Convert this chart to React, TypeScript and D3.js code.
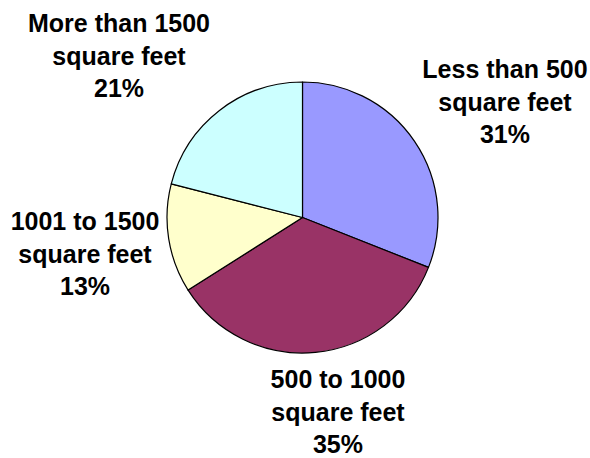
import React from 'react'
import * as d3 from 'd3'

// slices, clockwise from 12 o'clock
const categories = [
    'Less than 500 square feet',
    '500 to 1000 square feet',
    '1001 to 1500 square feet',
    'More than 1500 square feet'
]
const shares = [31, 35, 13, 21]
const colors = ['#9999FF', '#993366', '#FFFFCC', '#CCFFFF']

const WIDTH = 590
const HEIGHT = 458
const CX = 302.5
const CY = 217.5
const RADIUS = 135.5
const FONT = 25
const LINE = 32.5

// label block placement relative to pie center (x of centre, y of first baseline)
const labelOffsets = [
    [202.5, -139.5],
    [35.5, 170.5],
    [-217.5, 12.5],
    [-183.5, -185.5]
]

const splitLabel = (name: string) => {
    const m = name.match(/^(.*) (square feet)$/)
    return m ? [m[1], m[2]] : [name]
}

const App = () => {
    const total = d3.sum(shares)
    const pie = d3.pie<number>().sort(null).value((d) => d)
    const arcs = pie(shares)
    const arc = d3.arc<d3.PieArcDatum<number>>().innerRadius(0).outerRadius(RADIUS)
    const pct = d3.format('.0%')

    return (
        <svg
            width={WIDTH}
            height={HEIGHT}
            style={{ position: 'absolute', left: 0, top: 0, background: '#fff' }}
        >
            <g transform={`translate(${CX}, ${CY})`}>
                {arcs.map((a, i) => (
                    <path
                        key={i}
                        d={arc(a) || ''}
                        fill={colors[i]}
                        stroke='#000'
                        strokeWidth={1.2}
                        strokeLinejoin='round'
                    />
                ))}
                {arcs.map((a, i) => {
                    const lines = [...splitLabel(categories[i]), pct(a.value / total)]
                    const [dx, dy] = labelOffsets[i]
                    return (
                        <text
                            key={'l' + i}
                            x={dx}
                            y={dy}
                            textAnchor='middle'
                            style={{
                                fontFamily: '"Liberation Sans", Arial, sans-serif',
                                fontWeight: 'bold',
                                fontSize: FONT,
                                fill: '#000'
                            }}
                        >
                            {lines.map((t, j) => (
                                <tspan key={j} x={dx} y={dy + j * LINE}>{t}</tspan>
                            ))}
                        </text>
                    )
                })}
            </g>
        </svg>
    )
}

export default App
